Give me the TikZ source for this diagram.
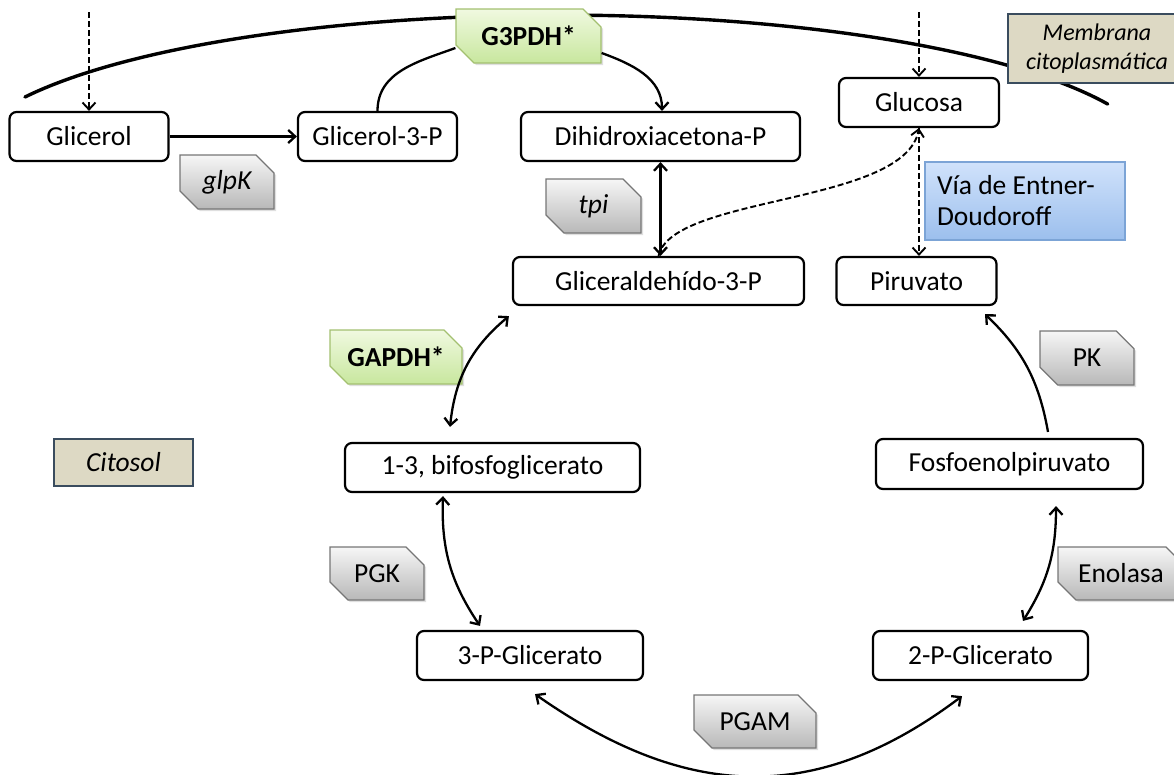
\documentclass[tikz,border=0pt]{standalone}
\usepackage{fontspec}
\setmainfont{Carlito}
\usepackage{tikz}
\usetikzlibrary{arrows.meta,shapes.misc,shadows}
\definecolor{tagTop}{RGB}{246,246,246}
\definecolor{tagBottom}{RGB}{184,184,184}
\definecolor{tagEdge}{RGB}{118,118,118}
\definecolor{keyTop}{RGB}{240,249,224}
\definecolor{keyBottom}{RGB}{200,231,158}
\definecolor{keyEdge}{RGB}{163,192,112}
\definecolor{noteFill}{RGB}{221,217,196}
\definecolor{noteEdge}{RGB}{58,76,94}
\definecolor{viaTop}{RGB}{208,226,251}
\definecolor{viaBottom}{RGB}{156,191,237}
\definecolor{viaEdge}{RGB}{124,164,214}

\begin{document}
\begin{tikzpicture}[x=1pt,y=1pt,
    font=\fontsize{27.5}{31}\selectfont,
    >={Straight Barb[length=7pt,width=13pt]},
    metab/.style={draw, line width=2.2pt, rounded corners=7pt, fill=white,
        minimum height=49pt, inner sep=0pt},
    enzima/.style={chamfered rectangle, chamfered rectangle corners={north east,south west},
        chamfered rectangle xsep=9pt, chamfered rectangle ysep=9pt,
        draw=tagEdge, line width=1.2pt, top color=tagTop, bottom color=tagBottom,
        minimum height=54pt, inner sep=0pt,
        drop shadow={shadow xshift=2pt, shadow yshift=-2pt, opacity=0.25}},
    enzimaClave/.style={enzima, draw=keyEdge, top color=keyTop, bottom color=keyBottom,
        font=\fontsize{27.5}{31}\selectfont\bfseries},
    rotulo/.style={draw=noteEdge, line width=1.8pt, fill=noteFill, inner sep=0pt,
        font=\fontsize{27.5}{31}\selectfont\itshape},
    flecha/.style={line width=2.3pt, ->},
    flechaDoble/.style={line width=2.3pt, <->},
    discont/.style={line width=1.9pt, dash pattern=on 6pt off 3pt, ->}]

    \useasboundingbox (0,0) rectangle (1174,-774);

    % membrana citoplasmatica
    \draw[line width=3.4pt, line cap=round] (25,-97) arc[start angle=153, end angle=24, x radius=600, y radius=150];

    % metabolitos
    \node[metab, minimum width=159pt] (glicerol) at (89,-136.5) {Glicerol};
    \node[metab, minimum width=159pt] (glicp) at (377.5,-136.5) {Glicerol-3-P};
    \node[metab, minimum width=279pt] (dhap) at (660.5,-136.5) {Dihidroxiacetona-P};
    \node[metab, minimum width=160pt] (glucosa) at (919,-102.5) {Glucosa};
    \node[metab, minimum width=291pt, minimum height=48pt] (gald) at (658.5,-281) {Gliceraldehído-3-P};
    \node[metab, minimum width=160pt, minimum height=48pt] (piruvato) at (916.5,-281) {Piruvato};
    \node[metab, minimum width=295pt] (bpg) at (492.5,-467.5) {1-3, bifosfoglicerato};
    \node[metab, minimum width=267pt, minimum height=50pt] (pep) at (1009.5,-464) {Fosfoenolpiruvato};
    \node[metab, minimum width=226pt] (tpg) at (530,-655.5) {3-P-Glicerato};
    \node[metab, minimum width=215pt] (dpg) at (980.5,-655.5) {2-P-Glicerato};

    % enzimas
    \node[enzima, minimum width=94pt] (glpk) at (227,-182) {\itshape glpK};
    \node[enzima, minimum width=95pt] (tpi) at (593.5,-206) {\itshape tpi};
    \node[enzimaClave, minimum width=145pt] (g3pdh) at (528.5,-36) {G3PDH*};
    \node[enzimaClave, minimum width=132pt] (gapdh) at (396,-357) {GAPDH*};
    \node[enzima, minimum width=94pt] (pk) at (1087,-358) {PK};
    \node[enzima, minimum width=94pt, minimum height=53pt] (pgk) at (377,-573.5) {PGK};
    \node[enzima, minimum width=126pt, minimum height=53pt] (enolasa) at (1121,-573.5) {Enolasa};
    \node[enzima, minimum width=122pt, minimum height=53pt] (pgam) at (755,-721.5) {PGAM};

    % rotulos
    \node[rotulo, minimum width=178pt, minimum height=69pt, align=center,
        font=\fontsize{24}{29}\selectfont\itshape] (membrana) at (1097,-48.5) {Membrana\\citoplasmática};
    \node[rotulo, minimum width=139pt, minimum height=47pt] (citosol) at (123.5,-462.5) {Citosol};
    \node[draw=viaEdge, line width=1.2pt, top color=viaTop, bottom color=viaBottom,
        text width=176pt, inner xsep=12pt, inner ysep=0pt, minimum height=78pt, align=flush left]
        (via) at (1025,-201) {Vía de Entner-\\Doudoroff};

    % entradas
    \coordinate (entraGli) at (89,-12);
    \coordinate (entraGlu) at (919,-12);
    \draw[discont] (entraGli) -- (glicerol.north);
    \draw[discont] (entraGlu) -- (glucosa.north);
    \draw[discont] (glucosa.south) -- (glucosa.south |- piruvato.north);
    \draw[discont] (gald.north) .. controls (672,-195) and (905,-205) .. (glucosa.south);

    % glicerol
    \draw[flecha] (glicerol) -- (glicp);
    \draw[line width=2.3pt] (glicp.north) to[out=90,in=200] ([yshift=-12pt]g3pdh.west);
    \draw[flecha] ([yshift=-17pt]g3pdh.east) to[out=-20,in=90] ([xshift=1.5pt]dhap.north);
    \draw[flechaDoble] (dhap.south) -- (dhap.south |- gald.north);

    % ciclo
    \draw[flechaDoble] ([shift={(-3,-10)}]gald.south west) to[bend right=22] ([shift={(-42.5,15)}]bpg.north);
    \draw[flechaDoble] ([shift={(-49.5,-3)}]bpg.south) to[bend right=18] ([shift={(-50,4)}]tpg.north);
    \draw[flechaDoble] ([shift={(5,-13)}]tpg.south) to[out=-35,in=-143,looseness=1.1] ([shift={(-18.5,-15)}]dpg.south);
    \draw[flechaDoble] ([shift={(42.5,9)}]dpg.north) to[bend right=16] ([shift={(46.5,-16)}]pep.south);
    \draw[flecha] ([shift={(38.5,6)}]pep.north) to[bend right=18] ([shift={(68.5,-8)}]piruvato.south);
\end{tikzpicture}
\end{document}
